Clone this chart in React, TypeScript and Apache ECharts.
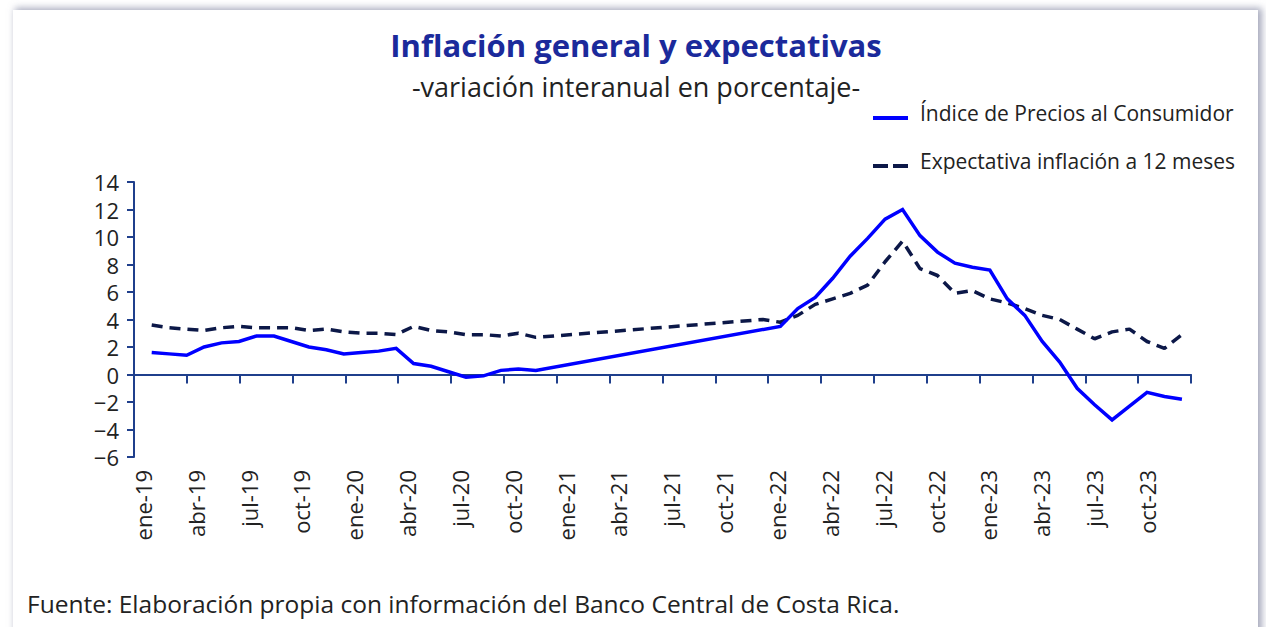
import React, { useEffect, useRef } from "react";
import * as echarts from "echarts";

const months = [
  "ene-19", "feb-19", "mar-19", "abr-19", "may-19", "jun-19", "jul-19", "ago-19", "sep-19", "oct-19", "nov-19", "dic-19",
  "ene-20", "feb-20", "mar-20", "abr-20", "may-20", "jun-20", "jul-20", "ago-20", "sep-20", "oct-20", "nov-20", "dic-20",
  "ene-21", "feb-21", "mar-21", "abr-21", "may-21", "jun-21", "jul-21", "ago-21", "sep-21", "oct-21", "nov-21", "dic-21",
  "ene-22", "feb-22", "mar-22", "abr-22", "may-22", "jun-22", "jul-22", "ago-22", "sep-22", "oct-22", "nov-22", "dic-22",
  "ene-23", "feb-23", "mar-23", "abr-23", "may-23", "jun-23", "jul-23", "ago-23", "sep-23", "oct-23", "nov-23", "dic-23",
];

// Índice de Precios al Consumidor (variación interanual, %)
const ipc: (number | null)[] = [
  1.6, 1.5, 1.4, 2.0, 2.3, 2.4, 2.8, 2.8, 2.4, 2.0, 1.8, 1.5,
  1.6, 1.7, 1.9, 0.8, 0.6, 0.2, -0.2, -0.1, 0.3, 0.4, 0.3, null,
  null, null, null, null, null, null, null, null, null, null, null, null,
  3.5, 4.8, 5.6, 7.0, 8.6, 9.9, 11.3, 12.0, 10.1, 8.9, 8.1, 7.8,
  7.6, 5.5, 4.3, 2.4, 0.9, -1.0, -2.2, -3.3, -2.3, -1.3, -1.6, -1.8,
];

// Expectativa de inflación a 12 meses (%)
const expectativa: (number | null)[] = [
  3.6, 3.4, 3.3, 3.2, 3.4, 3.5, 3.4, 3.4, 3.4, 3.2, 3.3, 3.1,
  3.0, 3.0, 2.9, 3.5, 3.2, 3.1, 2.9, 2.9, 2.8, 3.0, 2.7, null,
  null, null, null, null, null, null, null, null, null, null, null, 4.0,
  3.8, 4.3, 5.1, 5.5, 5.9, 6.5, 8.2, 9.7, 7.7, 7.2, 5.9, 6.1,
  5.5, 5.2, 4.8, 4.3, 4.0, 3.3, 2.6, 3.1, 3.3, 2.4, 1.9, 2.9,
];

const seriesNames = ["Índice de Precios al Consumidor", "Expectativa inflación a 12 meses"];
const titleText = "Inflación general y expectativas";
const subtitleText = "-variación interanual en porcentaje-";
const sourceText = "Fuente: Elaboración propia con información del Banco Central de Costa Rica.";

const FONT = "'Open Sans', sans-serif";
const AXIS_COLOR = "#1f3f8c";
const TEXT_COLOR = "#222222";
const IPC_COLOR = "#0000ff";
const EXP_COLOR = "#0c1848";

export default function App() {
  const ref = useRef<HTMLDivElement>(null);

  useEffect(() => {
    if (!ref.current) return;
    const chart = echarts.init(ref.current, null, { renderer: "svg" });
    chart.setOption({
      animation: false,
      backgroundColor: "transparent",
      textStyle: { fontFamily: FONT },
      graphic: [
        {
          type: "text",
          x: 636,
          y: 45,
          style: {
            text: titleText, fontSize: 31, fontWeight: "bold", fill: "#1b2a9b", fontFamily: FONT,
            textAlign: "center", textVerticalAlign: "middle",
          },
        },
        {
          type: "text",
          x: 636,
          y: 86,
          style: {
            text: subtitleText, fontSize: 27, fill: TEXT_COLOR, fontFamily: FONT,
            textAlign: "center", textVerticalAlign: "middle",
          },
        },
        {
          type: "text",
          x: 27,
          y: 603,
          style: {
            text: sourceText, fontSize: 24.5, fill: TEXT_COLOR, fontFamily: FONT,
            textAlign: "left", textVerticalAlign: "middle",
          },
        },
        // legend
        {
          type: "line",
          shape: { x1: 873, y1: 118, x2: 908, y2: 118 },
          style: { stroke: IPC_COLOR, lineWidth: 4 },
        },
        {
          type: "text",
          x: 920,
          y: 113,
          style: {
            text: seriesNames[0], fontSize: 21, fill: TEXT_COLOR, fontFamily: FONT,
            textAlign: "left", textVerticalAlign: "middle",
          },
        },
        {
          type: "line",
          shape: { x1: 873, y1: 166, x2: 908, y2: 166 },
          style: { stroke: EXP_COLOR, lineWidth: 4, lineDash: [15, 5] },
        },
        {
          type: "text",
          x: 920,
          y: 161,
          style: {
            text: seriesNames[1], fontSize: 21, fill: TEXT_COLOR, fontFamily: FONT,
            textAlign: "left", textVerticalAlign: "middle",
          },
        },
      ],
      grid: { left: 134, right: 75, top: 182, bottom: 170, containLabel: false },
      xAxis: [
        {
          // labels at the bottom
          type: "category",
          data: months,
          boundaryGap: true,
          position: "bottom",
          axisLine: { show: false, onZero: false },
          axisTick: { show: false },
          splitLine: { show: false },
          axisLabel: {
            interval: 2,
            rotate: 90,
            margin: 13,
            fontSize: 22,
            color: TEXT_COLOR,
            fontFamily: FONT,
          },
        },
        {
          // axis line on zero with ticks
          type: "category",
          data: months,
          boundaryGap: true,
          position: "top",
          axisLine: { show: true, onZero: true, lineStyle: { color: AXIS_COLOR, width: 2 } },
          axisTick: { show: true, inside: true, interval: 2, length: 9, lineStyle: { color: AXIS_COLOR, width: 2 } },
          axisLabel: { show: false },
          splitLine: { show: false },
        },
        {
          // value scale for the monthly points
          type: "value",
          min: -1.014,
          max: 59.52,
          show: false,
          splitLine: { show: false },
          axisLine: { show: false, onZero: false },
        },
      ],
      yAxis: {
        type: "value",
        min: -6,
        max: 14,
        interval: 2,
        axisLine: { show: true, onZero: false, lineStyle: { color: AXIS_COLOR, width: 2 } },
        axisTick: { show: true, length: 7, lineStyle: { color: AXIS_COLOR, width: 2 } },
        splitLine: { show: false },
        axisLabel: {
          fontSize: 22,
          color: TEXT_COLOR,
          margin: 15,
          fontFamily: FONT,
          formatter: (v: number) => (v < 0 ? "\u2212" + Math.abs(v) : String(v)),
        },
      },
      series: [
        {
          name: seriesNames[0],
          type: "line",
          xAxisIndex: 2,
          data: ipc.map((v, i) => [i, v]),
          connectNulls: true,
          showSymbol: false,
          symbol: "none",
          color: IPC_COLOR,
          lineStyle: { color: IPC_COLOR, width: 3.5, join: "miter" },
          z: 3,
        },
        {
          name: seriesNames[1],
          type: "line",
          xAxisIndex: 2,
          data: expectativa.map((v, i) => [i, v]),
          connectNulls: true,
          showSymbol: false,
          symbol: "none",
          color: EXP_COLOR,
          lineStyle: { color: EXP_COLOR, width: 3.5, type: [11, 7] },
          z: 2,
        },
      ],
    });
    return () => chart.dispose();
  }, []);

  return (
    <div style={{ position: "fixed", left: 0, top: 0, width: 1266, height: 627, background: "#ffffff", overflow: "hidden" }}>
      <div
        style={{
          position: "absolute",
          left: 13,
          top: 10,
          width: 1245,
          height: 640,
          background: "#ffffff",
          boxShadow: "3px -1px 7px 1px rgba(95,100,135,0.55)",
        }}
      />
      <div ref={ref} style={{ position: "absolute", left: 0, top: 0, width: 1266, height: 627 }} />
    </div>
  );
}
